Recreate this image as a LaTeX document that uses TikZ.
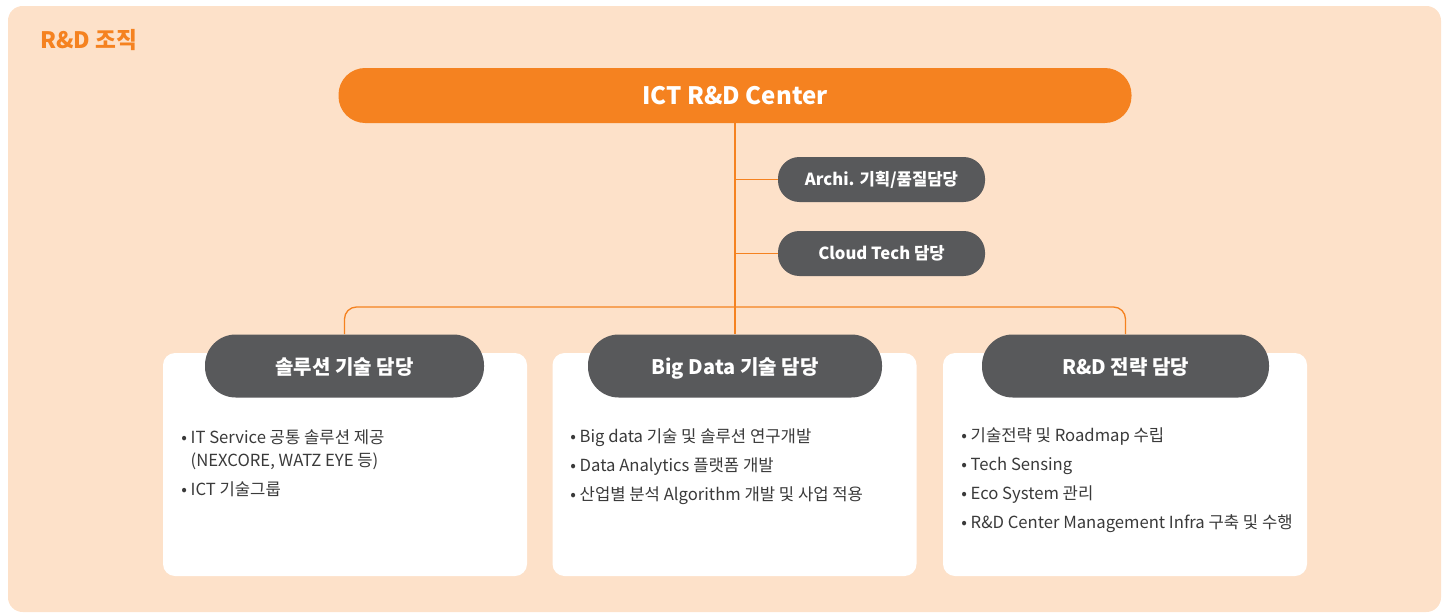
\documentclass[tikz,border=0pt]{standalone}
\usepackage{fontspec}
\setmainfont{Noto Sans CJK KR}
\usetikzlibrary{positioning}
\definecolor{rdorange}{HTML}{F58220}
\definecolor{rdbg}{HTML}{FDE1C9}
\definecolor{rdgray}{HTML}{58595B}
\definecolor{rdtext}{HTML}{3A3A3A}
\begin{document}
\begin{tikzpicture}[x=0.75pt,y=-0.75pt,
	head/.style={fill=rdorange,text=white,rounded corners=20pt,minimum width=594.75pt,minimum height=41.25pt,font=\bfseries\fontsize{18}{22}\selectfont},
	staff/.style={fill=rdgray,text=white,rounded corners=16pt,minimum width=155.25pt,minimum height=33.75pt,font=\bfseries\fontsize{12.5}{15}\selectfont},
	team/.style={fill=rdgray,text=white,rounded corners=23pt,minimum height=47.25pt,text height=13.5pt,text depth=0.5pt,font=\bfseries\fontsize{15}{18}\selectfont},
	card/.style={fill=white,rounded corners=9pt,minimum width=273pt,minimum height=167.25pt},
	tasks/.style={anchor=north west,inner sep=0pt,align=left,text=rdtext,font=\fontsize{12.5}{17.25}\selectfont},
	link/.style={draw=rdorange,line width=1pt}]
	\useasboundingbox (0,0) rectangle (1449,614);
	\fill[rdbg,rounded corners=11pt] (8,6) rectangle (1441,612);
	\node[anchor=west,inner sep=0pt,text=rdorange,font=\bfseries\fontsize{17}{20}\selectfont] (title) at (40,40) {R\&D 조직};
	% center and staff
	\node[head] (ictc) at (735,95.5) {ICT R\&D Center};
	\node[staff] (archi) at (881.5,179.5) {Archi. 기획/품질담당};
	\node[staff] (cloud) at (881.5,253.5) {Cloud Tech 담당};
	% cards
	\node[card] (solcard) at (345,464.5) {};
	\node[card] (bigcard) at (734.5,464.5) {};
	\node[card] (strcard) at (1125,464.5) {};
	% teams
	\node[team,minimum width=209.25pt] (sol) at (344.5,366) {솔루션 기술 담당};
	\node[team,minimum width=220.5pt] (big) at (735,366) {Big Data 기술 담당};
	\node[team,minimum width=215.25pt] (str) at (1125.5,366) {R\&D 전략 담당};
	% lines
	\coordinate (bus) at (735,307);
	\draw[link] (ictc.south) -- (big.north);
	\draw[link] (ictc.south |- archi.west) -- (archi.west);
	\draw[link] (ictc.south |- cloud.west) -- (cloud.west);
	\draw[link,rounded corners=9pt] (sol.north) |- (bus) -| (str.north);
	% task lists
	\node[tasks] (soltasks) at (181,429) {• IT Service 공통 솔루션 제공\\
		\phantom{• }(NEXCORE, WATZ EYE 등)\\[4.5pt]
		• ICT 기술그룹};
	\node[tasks] (bigtasks) at (570,428) {• Big data 기술 및 솔루션 연구개발\\[4.5pt]
		• Data Analytics 플랫폼 개발\\[4.5pt]
		• 산업별 분석 Algorithm 개발 및 사업 적용};
	\node[tasks] (strtasks) at (961,427) {• 기술전략 및 Roadmap 수립\\[4.5pt]
		• Tech Sensing\\[4.5pt]
		• Eco System 관리\\[4.5pt]
		• R\&D Center Management Infra 구축 및 수행};
\end{tikzpicture}
\end{document}
